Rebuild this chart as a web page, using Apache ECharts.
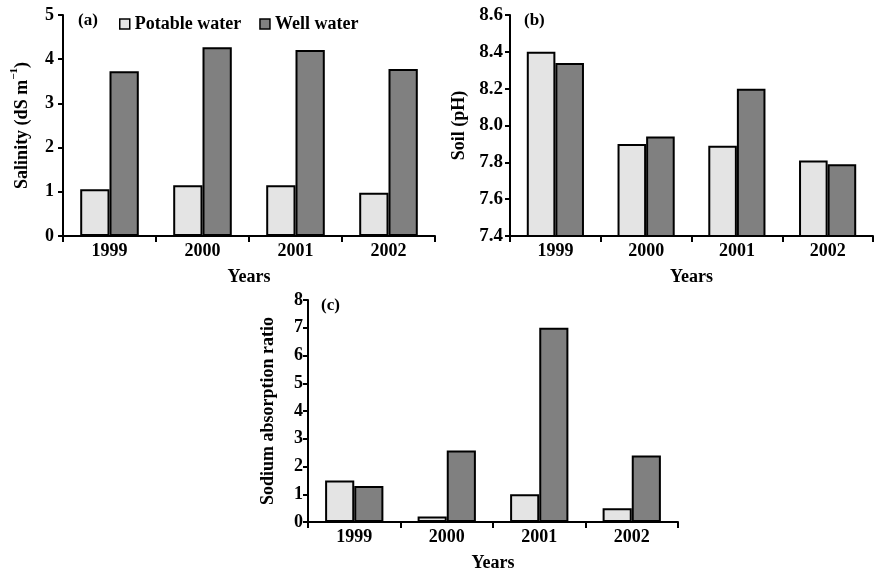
<!DOCTYPE html>
<html>
<head>
<meta charset="utf-8">
<script src="https://cdn.jsdelivr.net/npm/echarts@6/dist/echarts.min.js"></script>
<style>
  html, body { margin: 0; padding: 0; background: #fff; }
  #main { width: 875px; height: 573px; }
</style>
</head>
<body>
<div id="main"></div>
<script>
const years = ['1999', '2000', '2001', '2002'];

// (a) salinity, dS m-1
const salinityPotable = [1.06, 1.15, 1.15, 0.98];
const salinityWell = [3.73, 4.27, 4.21, 3.78];

// (b) soil pH
const phPotable = [8.40, 7.90, 7.89, 7.81];
const phWell = [8.34, 7.94, 8.20, 7.79];

// (c) sodium absorption ratio
const sarPotable = [1.5, 0.2, 1.0, 0.5];
const sarWell = [1.3, 2.58, 7.0, 2.4];

const FONT = '"Liberation Serif", "Times New Roman", serif';
const LIGHT = '#e4e4e4';
const DARK = '#808080';

let myChart = echarts.init(document.getElementById('main'));

const txt = (size) => ({
    fontFamily: FONT, fontWeight: 'bold', fontSize: size, color: '#000'
});

function xAxisFor(gridIndex){
    return {
        type: 'category',
        gridIndex: gridIndex,
        data: years,
        name: 'Years',
        nameLocation: 'middle',
        nameGap: 32,
        nameTextStyle: txt(18),
        axisLine: {lineStyle: {color: '#000', width: 2}},
        axisTick: {show: true, length: 6, lineStyle: {color: '#000', width: 2}},
        axisLabel: Object.assign(txt(18), {margin: 6}),
        splitLine: {show: false}
    };
}

function yAxisFor(gridIndex, min, max, interval, name, nameGap, margin, digits, size){
    return {
        type: 'value',
        gridIndex: gridIndex,
        min: min,
        max: max,
        interval: interval,
        name: name,
        nameLocation: 'middle',
        nameGap: nameGap,
        nameTextStyle: txt(18),
        axisLine: {show: true, lineStyle: {color: '#000', width: 2}},
        axisTick: {show: true, length: 5, lineStyle: {color: '#000', width: 2}},
        axisLabel: Object.assign(txt(size), {
            margin: margin,
            formatter: v => v.toFixed(digits)
        }),
        splitLine: {show: false}
    };
}

function barSeries(name, color, data, idx){
    return {
        name: name,
        type: 'bar',
        xAxisIndex: idx,
        yAxisIndex: idx,
        data: data,
        barGap: 0,
        barCategoryGap: '37%',
        itemStyle: {color: color, borderColor: '#000', borderWidth: 2},
        emphasis: {disabled: true},
        animation: false
    };
}

let yA = yAxisFor(0, 0, 5, 1, '{a|Salinity (dS m}{s|−1}{a|)}', 28, 9, 0, 18);
yA.nameTextStyle = {
    rich: {
        a: Object.assign(txt(18), {lineHeight: 26}),
        s: Object.assign(txt(11), {verticalAlign: 'top', lineHeight: 11})
    }
};

let option = {
    backgroundColor: '#fff',
    animation: false,
    grid: [
        {left: 63, top: 15, width: 372, height: 221},
        {left: 510, top: 15, width: 363, height: 221},
        {left: 308, top: 300, width: 370, height: 222}
    ],
    legend: {
        data: ['Potable water', 'Well water'],
        left: 114,
        top: 10,
        itemWidth: 10,
        itemHeight: 10,
        itemGap: 18,
        icon: 'rect',
        itemStyle: {borderWidth: 1.5, borderColor: '#000'},
        textStyle: txt(18),
        selectedMode: false
    },
    graphic: [
        {type: 'text', left: 78, top: 12, style: Object.assign(txt(17), {text: '(a)', fill: '#000'})},
        {type: 'text', left: 524, top: 12, style: Object.assign(txt(17), {text: '(b)', fill: '#000'})},
        {type: 'text', left: 321, top: 297, style: Object.assign(txt(17), {text: '(c)', fill: '#000'})}
    ],
    xAxis: [xAxisFor(0), xAxisFor(1), xAxisFor(2)],
    yAxis: [
        yA,
        yAxisFor(1, 7.4, 8.6, 0.2, 'Soil (pH)', 42, 7, 1, 19),
        yAxisFor(2, 0, 8, 1, 'Sodium absorption ratio', 31, 5, 0, 18)
    ],
    series: [
        barSeries('Potable water', LIGHT, salinityPotable, 0),
        barSeries('Well water', DARK, salinityWell, 0),
        barSeries('Potable water', LIGHT, phPotable, 1),
        barSeries('Well water', DARK, phWell, 1),
        barSeries('Potable water', LIGHT, sarPotable, 2),
        barSeries('Well water', DARK, sarWell, 2)
    ]
};

myChart.setOption(option);
</script>
</body>
</html>
